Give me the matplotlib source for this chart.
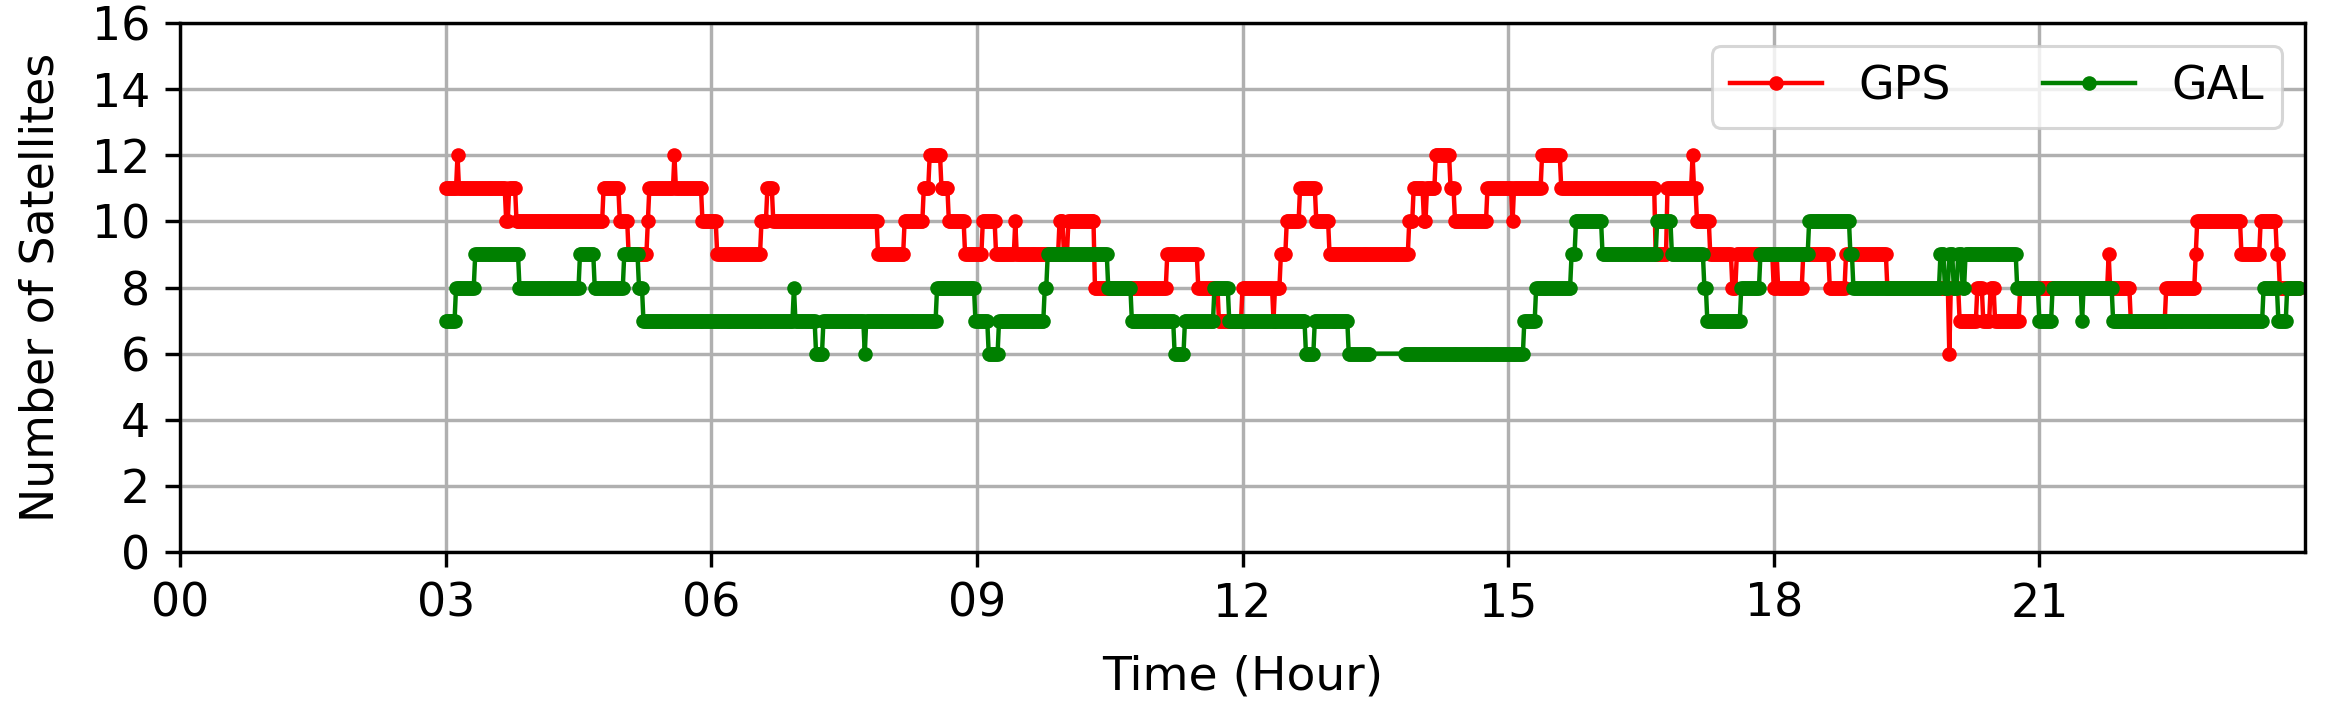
import numpy as np
import matplotlib
matplotlib.use("Agg")
import matplotlib.pyplot as plt

# satellite counts (hour, count)
gps_change_h = [3.00, 3.13, 3.15, 3.68, 3.71, 3.79, 4.77, 4.96, 5.06, 5.27,
                5.30, 5.58, 5.60, 5.90, 6.06, 6.56, 6.63, 6.69, 7.87, 8.17,
                8.39, 8.46, 8.59, 8.67, 8.86, 9.06, 9.21, 9.42, 9.44, 9.93,
                9.98, 10.03, 10.32, 11.14, 11.50, 11.72, 12.00, 12.34, 12.36, 12.43,
                12.50, 12.65, 12.83, 12.97, 13.87, 13.92, 14.05, 14.08, 14.18, 14.34,
                14.39, 14.76, 15.04, 15.06, 15.38, 15.60, 16.66, 16.80, 17.07, 17.09,
                17.13, 17.27, 17.53, 17.57, 17.99, 18.02, 18.05, 18.32, 18.62, 18.81,
                19.28, 19.98, 20.00, 20.10, 20.30, 20.36, 20.45, 20.50, 20.78, 21.77,
                21.79, 22.03, 22.42, 22.76, 22.78, 23.27, 23.50, 23.68, 23.71]
gps_count = [11, 12, 11, 10, 11, 10, 11, 10, 9, 10,
             11, 12, 11, 10, 9, 10, 11, 10, 9, 10,
             11, 12, 11, 10, 9, 10, 9, 10, 9, 10,
             9, 10, 8, 9, 8, 7, 8, 7, 8, 9,
             10, 11, 10, 9, 10, 11, 10, 11, 12, 11,
             10, 11, 10, 11, 12, 11, 9, 11, 12, 11,
             10, 9, 8, 9, 8, 9, 8, 9, 8, 9,
             8, 6, 8, 7, 8, 7, 8, 7, 8, 9,
             8, 7, 8, 9, 10, 9, 10, 9, 8]

gal_change_h = [3.00, 3.11, 3.32, 3.83, 4.51, 4.68, 5.01, 5.18, 5.22, 6.93,
                6.95, 7.18, 7.26, 7.73, 7.75, 8.55, 8.98, 9.13, 9.25, 9.76,
                9.79, 10.48, 10.74, 11.23, 11.34, 11.67, 11.85, 12.71, 12.81, 13.19,
                15.17, 15.31, 15.71, 15.76, 16.06, 16.67, 16.85, 17.21, 17.24, 17.62,
                17.84, 18.39, 18.86, 18.89, 19.88, 19.93, 19.97, 20.02, 20.07, 20.12,
                20.16, 20.74, 21.00, 21.14, 21.47, 21.49, 21.82, 23.52, 23.69, 23.79]
gal_count = [7, 8, 9, 8, 9, 8, 9, 8, 7, 8,
             7, 6, 7, 6, 7, 8, 7, 6, 7, 8,
             9, 8, 7, 6, 7, 8, 7, 6, 7, 6,
             7, 8, 9, 10, 9, 10, 9, 8, 7, 8,
             9, 10, 9, 8, 9, 8, 9, 8, 9, 8,
             9, 8, 7, 8, 7, 8, 7, 8, 7, 8]
gal_gap = (13.44, 13.82)  # no GAL epochs here

# 1-minute epochs from 03:00 to 23:56
epochs = np.arange(180, 1437) / 60.0

gps = np.array(gps_count)[np.searchsorted(gps_change_h, epochs, side="right") - 1]
gal = np.array(gal_count)[np.searchsorted(gal_change_h, epochs, side="right") - 1]
keep = (epochs < gal_gap[0]) | (epochs > gal_gap[1])

plt.rcParams.update({
    "font.size": 33,
    "axes.linewidth": 2.45,
    "xtick.major.size": 10.8, "ytick.major.size": 10.8,
    "xtick.major.width": 2.45, "ytick.major.width": 2.45,
    "xtick.major.pad": 10.8, "ytick.major.pad": 10.8,
})

fig = plt.figure(figsize=(23.36, 7.24), dpi=100)
ax = fig.add_axes([0.0771, 0.2376, 0.9096, 0.7306])

ax.plot(epochs, gps, color="red", marker="o", ms=10.5, mew=0, lw=3.2, label="GPS")
ax.plot(epochs[keep], gal[keep], color="green", marker="o", ms=10.5, mew=0, lw=3.2, label="GAL")

ax.set_xlim(0, 24)
ax.set_ylim(0, 16)
ax.set_xticks(range(0, 24, 3))
ax.set_xticklabels(["%02d" % h for h in range(0, 24, 3)])
ax.set_yticks(range(0, 17, 2))
ax.grid(True, color="#b0b0b0", lw=2.45)
ax.set_axisbelow(True)
ax.set_xlabel("Time (Hour)", fontsize=34, labelpad=20)
ax.set_ylabel("Number of Satellites", labelpad=20)

leg = ax.legend(loc="upper right", ncol=2)
leg.get_frame().set_linewidth(2.2)

fig.savefig("out.png", dpi=100)
